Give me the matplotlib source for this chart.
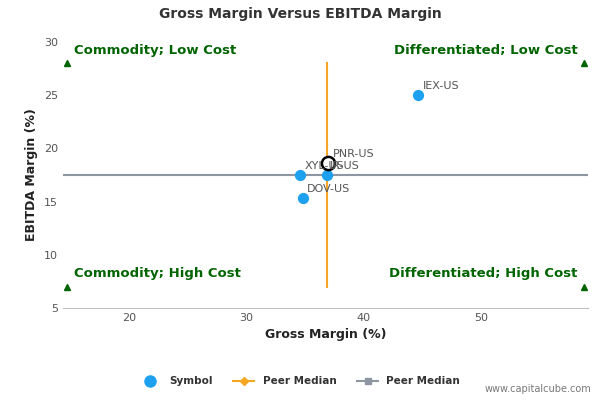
import matplotlib
matplotlib.use("Agg")
import matplotlib.pyplot as plt
from matplotlib.lines import Line2D

symbols = ["IEX-US", "PNR-US", "XYL-US", "IR-US", "DOV-US"]
gross = [44.6, 37.0, 34.6, 36.9, 34.8]
ebitda = [25.0, 18.6, 17.5, 17.5, 15.3]
median_x = 36.9
median_y = 17.5
xlim = (14.4, 59.1)
ylim = (5, 30)

fig = plt.figure(figsize=(6, 4), dpi=100)
ax = fig.add_axes([0.105, 0.23, 0.875, 0.665])
ax.set_xlim(*xlim); ax.set_ylim(*ylim)
ax.plot([median_x, median_x], [7, 28], color="#f5a623", lw=1.5, zorder=2)
ax.plot(xlim, [median_y, median_y], color="#8e95a3", lw=1.5, zorder=2)
others = [i for i in range(len(symbols)) if symbols[i] != "PNR-US"]
ax.scatter([gross[i] for i in others], [ebitda[i] for i in others], s=50, color="#1ea0f0", zorder=3)
ax.scatter([gross[1]], [ebitda[1]], s=90, facecolor="white", edgecolor="black", lw=1.8, zorder=4)
offs = {"IEX-US": (0.4, 0.6), "PNR-US": (0.4, 0.6), "XYL-US": (0.4, 0.6), "IR-US": (0.2, 0.6), "DOV-US": (0.4, 0.6)}
for s, x, y in zip(symbols, gross, ebitda):
    dx, dy = offs[s]
    ax.text(x + dx, y + dy, s, fontsize=8, color="#555555", zorder=5)
green = "#006400"
for x, y in [(14.7, 28), (58.8, 28), (14.7, 7), (58.8, 7)]:
    ax.plot(x, y, marker="^", color=green, ms=5, clip_on=False, zorder=5)
ax.text(15.3, 28.9, "Commodity; Low Cost", color=green, fontsize=9.5, fontweight="bold")
ax.text(58.2, 28.9, "Differentiated; Low Cost", color=green, fontsize=9.5, fontweight="bold", ha="right")
ax.text(15.3, 7.9, "Commodity; High Cost", color=green, fontsize=9.5, fontweight="bold")
ax.text(58.2, 7.9, "Differentiated; High Cost", color=green, fontsize=9.5, fontweight="bold", ha="right")
ax.set_xticks([20, 30, 40, 50]); ax.set_yticks([5, 10, 15, 20, 25, 30])
ax.tick_params(labelsize=8, colors="#555555", length=0)
for sp in ["top", "right", "left"]:
    ax.spines[sp].set_visible(False)
ax.spines["bottom"].set_color("#c0c0c0")
ax.set_xlabel("Gross Margin (%)", fontsize=9, fontweight="bold", color="#222222")
ax.set_ylabel("EBITDA Margin (%)", fontsize=9, fontweight="bold", color="#222222")
fig.text(0.5, 0.955, "Gross Margin Versus EBITDA Margin", ha="center", fontsize=10, fontweight="bold", color="#333333")
handles = [Line2D([], [], marker="o", color="#1ea0f0", ls="none", ms=8),
           Line2D([], [], marker="D", color="#f5a623", ms=4, lw=1.5),
           Line2D([], [], marker="s", color="#8e95a3", ms=4, lw=1.5)]
fig.legend(handles, ["Symbol", "Peer Median", "Peer Median"], loc="center", bbox_to_anchor=(0.5, 0.047),
           ncol=3, frameon=False, prop={"size": 7.5, "weight": "bold"}, labelcolor="#333333", handlelength=2)
fig.text(0.985, 0.02, "www.capitalcube.com", ha="right", fontsize=7, color="#777777")
fig.savefig("out.png")
